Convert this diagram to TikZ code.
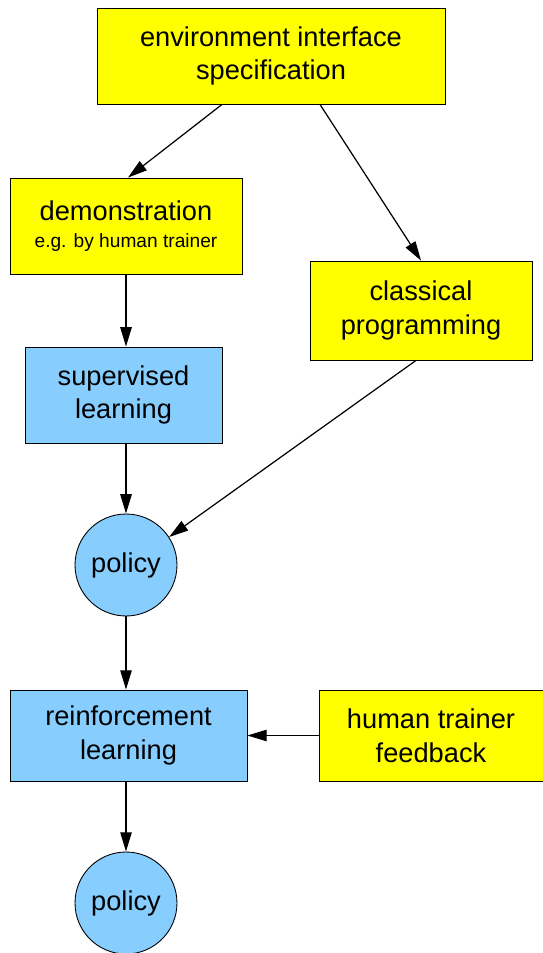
\documentclass[tikz,border=0pt]{standalone}
\usepackage{fontspec}
\setmainfont{Liberation Sans}
\usetikzlibrary{arrows.meta}
\definecolor{skyblue}{RGB}{135,206,255}
\definecolor{boxyellow}{RGB}{255,255,0}

\begin{document}
\begin{tikzpicture}[x=0.02cm,y=-0.02cm,
    box/.style={draw,line width=0.5pt,fill=boxyellow,align=center,inner sep=0pt,
        font=\fontsize{15.5}{19.3}\selectfont},
    learnbox/.style={box,fill=skyblue},
    policy/.style={circle,draw,line width=0.5pt,fill=skyblue,minimum size=2.04cm,
        inner sep=0pt,font=\fontsize{15.5}{19.3}\selectfont},
    arr/.style={-{Triangle[length=11pt,width=6.5pt]},line width=0.7pt}]
    \useasboundingbox (0,0) rectangle (543,953);

    \node[box,minimum width=6.96cm,minimum height=1.92cm] (env) at (271,56) {environment interface\\specification};
    \node[box,minimum width=4.64cm,minimum height=1.92cm] (demo) at (126,226) {demonstration\\[-3.5pt]{\fontsize{10.9}{13}\selectfont e.g. by human trainer}};
    \node[box,minimum width=4.44cm,minimum height=1.98cm] (classic) at (421,310.5) {classical\\programming};
    \node[learnbox,minimum width=3.94cm,minimum height=1.92cm] (super) at (123.5,395) {supervised\\learning};
    \node[policy] (pol1) at (126,565) {policy};
    \node[learnbox,minimum width=4.74cm,minimum height=1.82cm] (rl) at (128.5,735.5) {reinforcement\\learning};
    \node[box,minimum width=4.48cm,minimum height=1.82cm] (human) at (431,735.5) {human trainer\\feedback};
    \node[policy] (pol2) at (126,903) {policy};

    \draw[arr] ([xshift=-0.98cm]env.south) -- ([xshift=0.04cm]demo.north);
    \draw[arr] ([xshift=0.98cm]env.south) -- (classic.north);
    \draw[arr] (demo.south) -- (demo.south |- super.north);
    \draw[arr] ([xshift=-0.1cm]classic.south) -- (pol1.33);
    \draw[arr] (super.south -| pol1.north) -- (pol1.north);
    \draw[arr] (pol1.south) -- (pol1.south |- rl.north);
    \draw[arr] (human.west) -- (rl.east);
    \draw[arr] (rl.south -| pol2.north) -- (pol2.north);
\end{tikzpicture}
\end{document}
